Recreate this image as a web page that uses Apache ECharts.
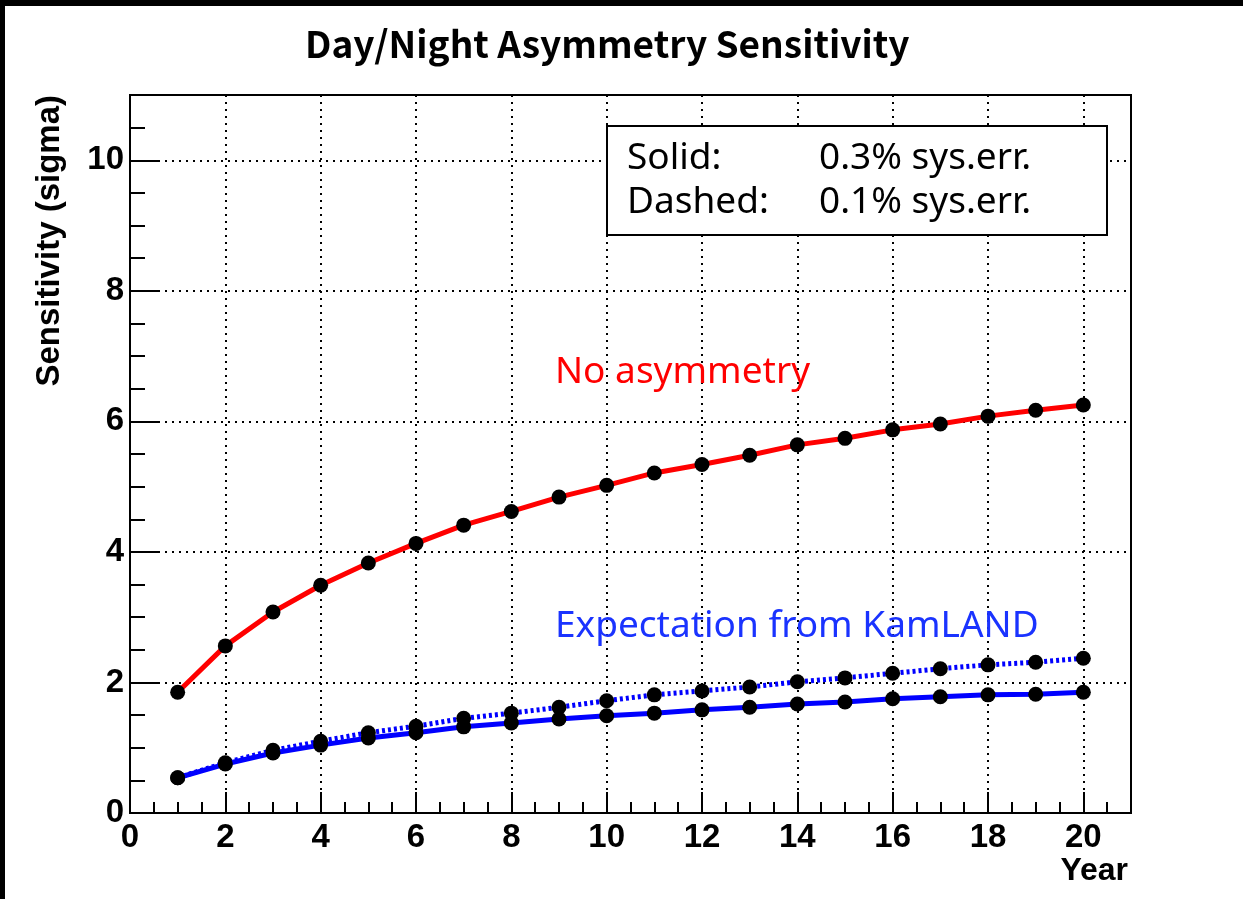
<!DOCTYPE html>
<html>
<head>
<meta charset="utf-8">
<script src="https://cdn.jsdelivr.net/npm/echarts@6/dist/echarts.min.js"></script>
<style>
html,body{margin:0;padding:0;background:#fff;}
#chart{width:1243px;height:899px;}
</style>
</head>
<body>
<div id="chart"></div>
<script>
const years = [1,2,3,4,5,6,7,8,9,10,11,12,13,14,15,16,17,18,19,20];
const noAsymmetry = [1.85,2.56,3.08,3.49,3.83,4.13,4.41,4.62,4.84,5.02,5.21,5.34,5.48,5.64,5.74,5.87,5.96,6.08,6.17,6.25];
const kamlandSolid = [0.54,0.75,0.92,1.04,1.15,1.23,1.32,1.38,1.44,1.49,1.53,1.58,1.62,1.67,1.70,1.75,1.78,1.81,1.82,1.85];
const kamlandDashed = [0.54,0.77,0.96,1.10,1.23,1.33,1.45,1.53,1.62,1.72,1.81,1.87,1.93,2.01,2.07,2.14,2.21,2.27,2.31,2.37];
const titleText = 'Day/Night Asymmetry Sensitivity';
const xName = 'Year';
const yName = 'Sensitivity (sigma)';
const legendRows = [['Solid:', '0.3% sys.err.'], ['Dashed:', '0.1% sys.err.']];
const labelRed = 'No asymmetry';
const labelBlue = 'Expectation from KamLAND';

const pairs = (vals) => years.map((y, i) => [y, vals[i]]);
const cjk = '"Noto Sans CJK JP", "Noto Sans", sans-serif';
const noto = '"Noto Sans", "Noto Sans CJK JP", sans-serif';
const helv = '"Liberation Sans", Arial, sans-serif';

const chart = echarts.init(document.getElementById('chart'), null, {renderer: 'canvas'});
const G = {left: 130, top: 95, width: 1001, height: 718};

const option = {
  backgroundColor: '#ffffff',
  animation: false,
  title: {
    text: titleText, left: 300, top: 20,
    textStyle: {fontFamily: cjk, fontWeight: 'bold', fontSize: 37, color: '#000'}
  },
  grid: Object.assign({show: true, borderColor: '#000', borderWidth: 2, backgroundColor: 'transparent'}, G),
  xAxis: [{
    type: 'value', min: 0, max: 21, interval: 2, position: 'bottom',
    axisLine: {show: true, lineStyle: {color: '#000', width: 2}},
    axisTick: {show: true, inside: true, length: 21, lineStyle: {color: '#000', width: 2}},
    axisLabel: {show: true, margin: 8, color: '#000', fontFamily: helv, fontWeight: 'bold', fontSize: 33,
      formatter: v => (v % 2 === 0 ? String(v) : '')},
    splitLine: {show: true, lineStyle: {color: '#000', width: 2, type: [2, 5]}}
  }, {
    type: 'value', min: 0, max: 21, interval: 0.5, position: 'bottom', offset: 0,
    axisLine: {show: false},
    axisTick: {show: true, inside: true, length: 11, lineStyle: {color: '#000', width: 2}},
    axisLabel: {show: false}, splitLine: {show: false}
  }],
  yAxis: [{
    type: 'value', min: 0, max: 11, interval: 2, position: 'left',
    axisLine: {show: true, lineStyle: {color: '#000', width: 2}},
    axisTick: {show: true, inside: true, length: 30, lineStyle: {color: '#000', width: 2}},
    axisLabel: {show: true, margin: 6, color: '#000', fontFamily: helv, fontWeight: 'bold', fontSize: 33,
      formatter: v => (v % 2 === 0 ? String(v) : '')},
    splitLine: {show: true, lineStyle: {color: '#000', width: 2, type: [2, 5]}}
  }, {
    type: 'value', min: 0, max: 11, interval: 0.5, position: 'left', offset: 0,
    axisLine: {show: false},
    axisTick: {show: true, inside: true, length: 15, lineStyle: {color: '#000', width: 2}},
    axisLabel: {show: false}, splitLine: {show: false}
  }],
  series: [{
    type: 'line', name: labelRed, data: pairs(noAsymmetry),
    lineStyle: {color: '#ff0000', width: 5}, symbol: 'circle', symbolSize: 15,
    itemStyle: {color: '#000'}, z: 3
  }, {
    type: 'line', name: 'dashed', data: pairs(kamlandDashed),
    lineStyle: {color: '#0000ff', width: 5, type: [3, 3]}, symbol: 'circle', symbolSize: 15,
    itemStyle: {color: '#000'}, z: 3
  }, {
    type: 'line', name: 'solid', data: pairs(kamlandSolid),
    lineStyle: {color: '#0000ff', width: 5}, symbol: 'circle', symbolSize: 15,
    itemStyle: {color: '#000'}, z: 4
  }],
  graphic: [
    {type: 'rect', shape: {x: 0, y: 0, width: 1243, height: 6}, style: {fill: '#000'}, z: 100},
    {type: 'rect', shape: {x: 0, y: 0, width: 5, height: 899}, style: {fill: '#000'}, z: 100},
    {type: 'rect', shape: {x: 607, y: 126, width: 500, height: 109}, style: {fill: '#fff', stroke: '#000', lineWidth: 2}, z: 50},
    {type: 'text', x: 627, y: 140, z: 51, style: {text: legendRows[0][0], font: '37px ' + noto, fill: '#000'}},
    {type: 'text', x: 819, y: 140, z: 51, style: {text: legendRows[0][1], font: '37px ' + noto, fill: '#000'}},
    {type: 'text', x: 627, y: 184, z: 51, style: {text: legendRows[1][0], font: '37px ' + noto, fill: '#000'}},
    {type: 'text', x: 819, y: 184, z: 51, style: {text: legendRows[1][1], font: '37px ' + noto, fill: '#000'}},
    {type: 'text', x: 555, y: 354, z: 51, style: {text: labelRed, font: '37px ' + noto, fill: '#ff0000'}},
    {type: 'text', x: 555, y: 608, z: 51, style: {text: labelBlue, font: '37px ' + noto, fill: '#1a33ff'}},
    {type: 'text', x: 1128, y: 855, z: 51, style: {text: xName, font: 'bold 32px ' + helv, fill: '#000', textAlign: 'right', textVerticalAlign: 'top'}},
    {type: 'text', x: 33, y: 95, rotation: Math.PI / 2, z: 51, style: {text: yName, font: 'bold 33px ' + helv, fill: '#000', textAlign: 'right', textVerticalAlign: 'top'}}
  ]
};
chart.setOption(option);
</script>
</body>
</html>
